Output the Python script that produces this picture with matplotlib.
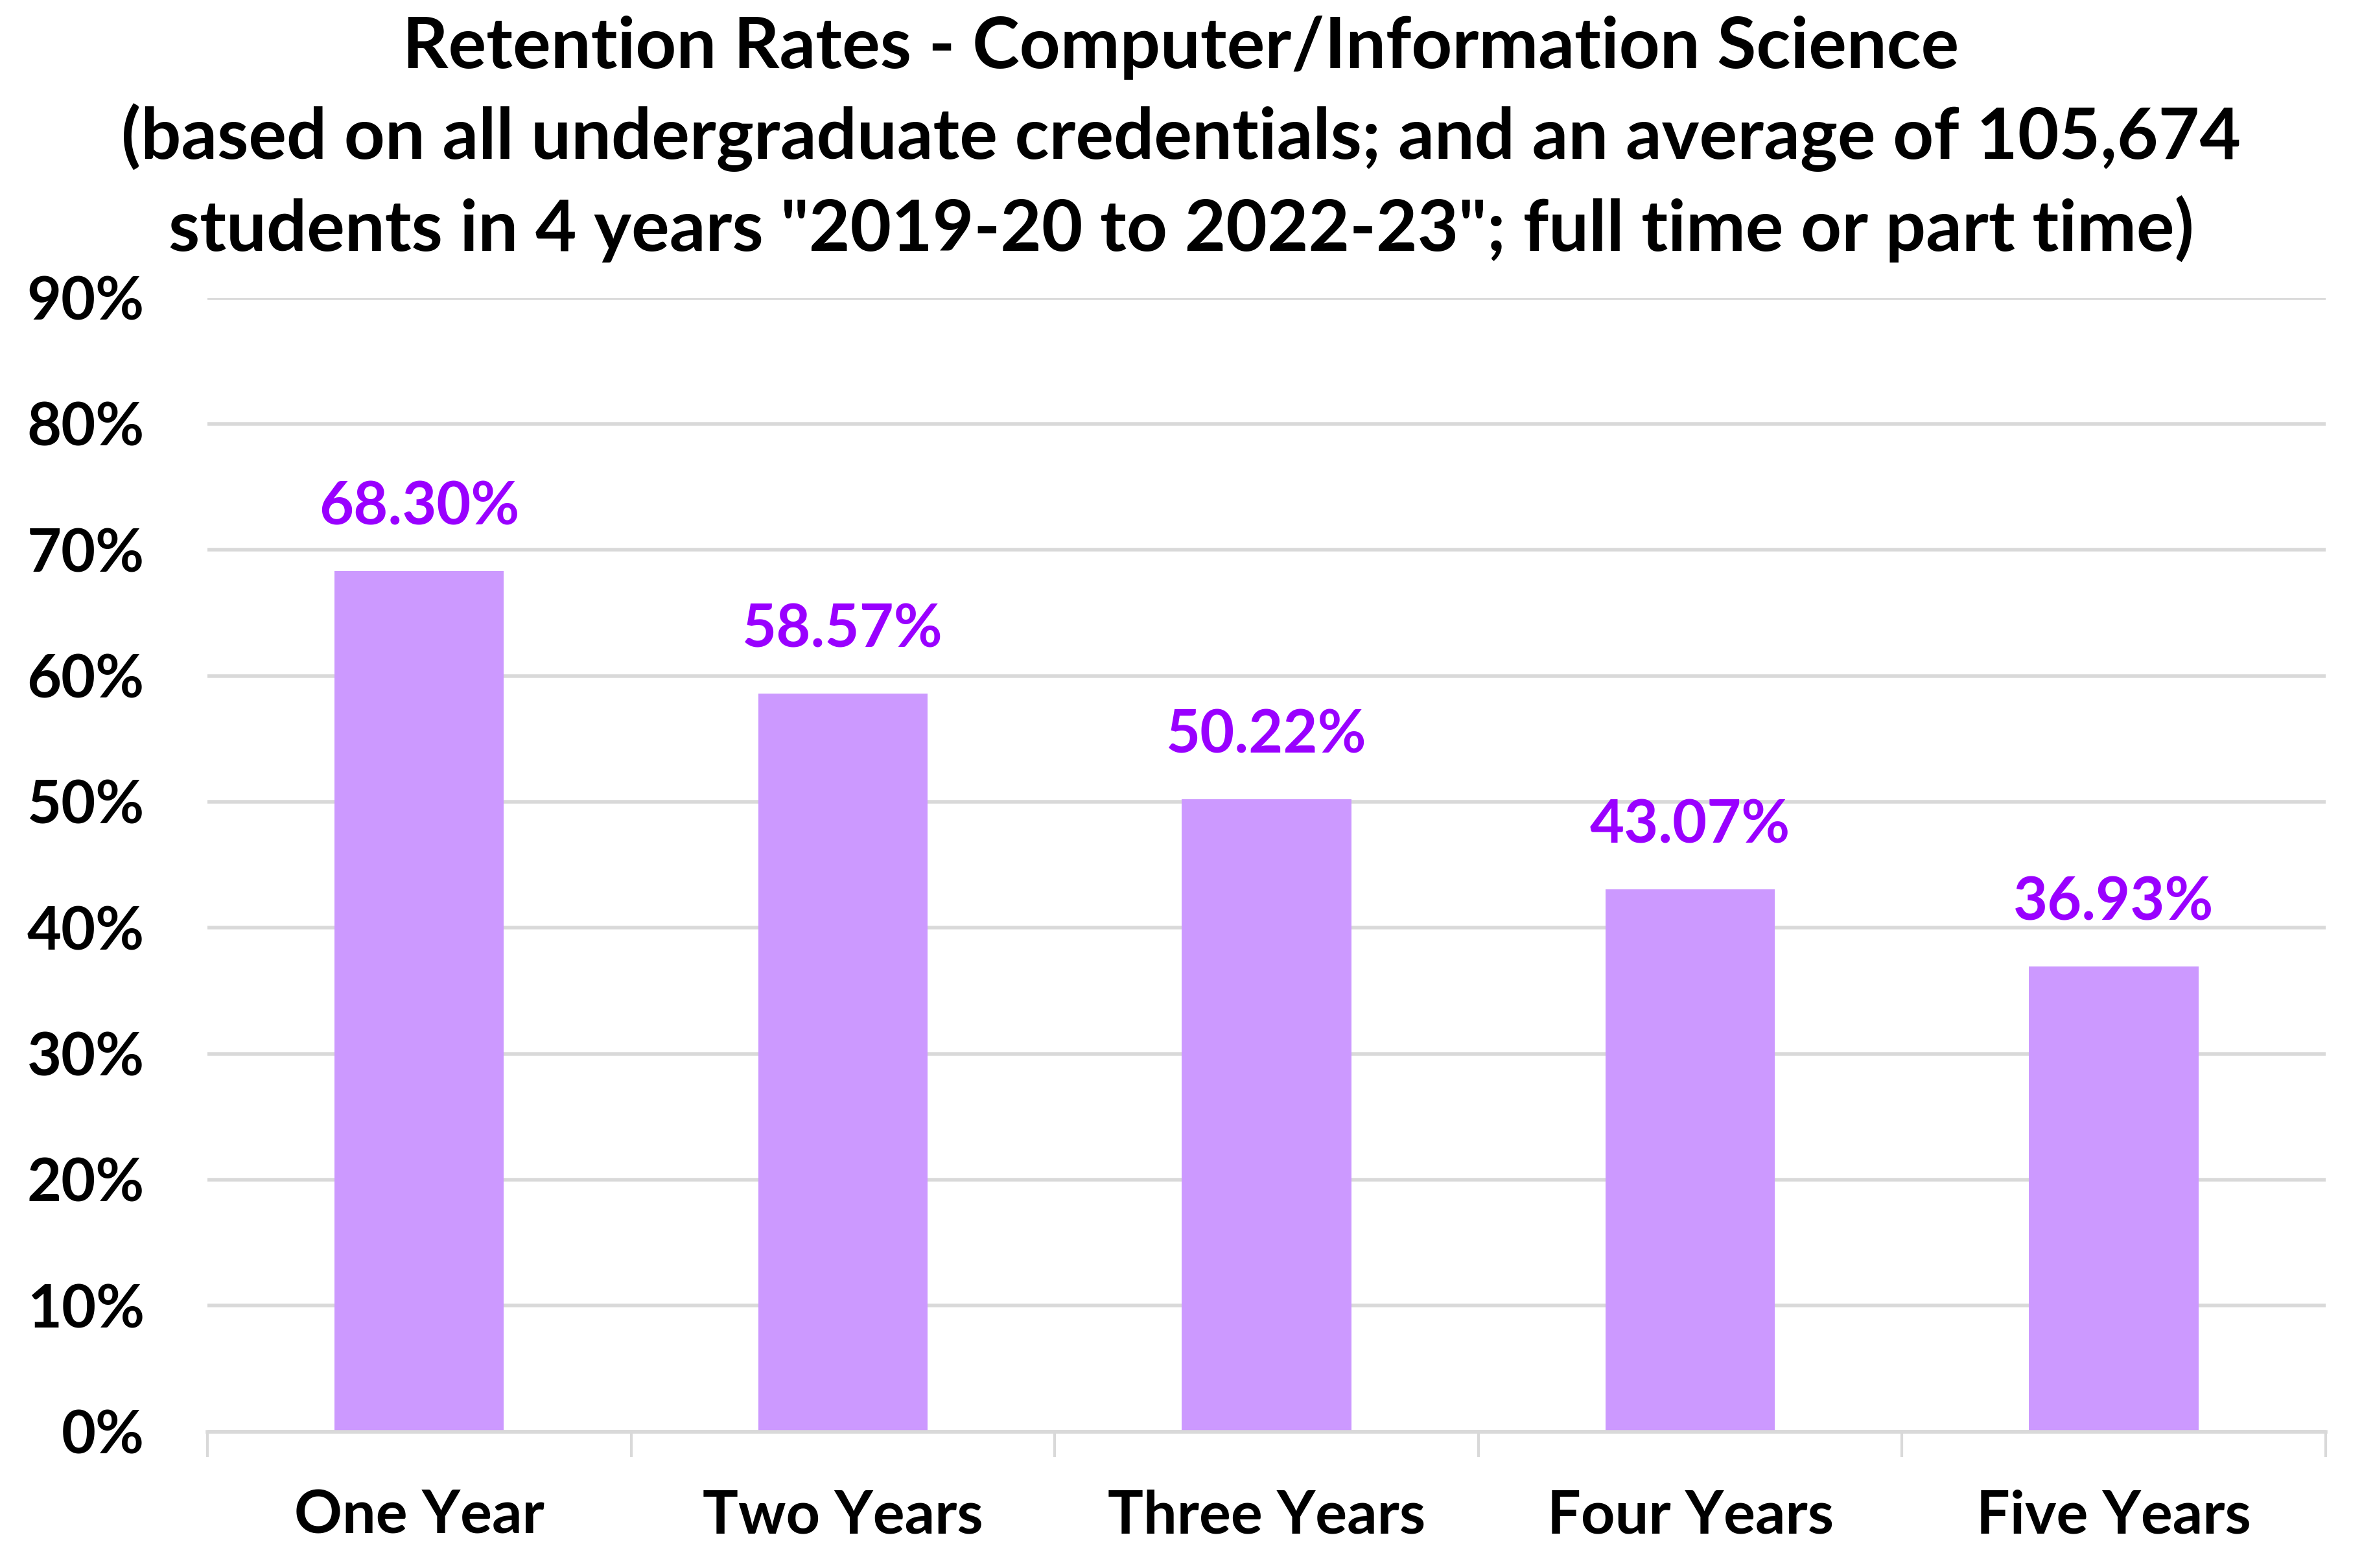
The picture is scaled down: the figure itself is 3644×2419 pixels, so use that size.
import matplotlib
matplotlib.use("Agg")
import matplotlib.pyplot as plt
from matplotlib.ticker import PercentFormatter

categories = ["One Year", "Two Years", "Three Years", "Four Years", "Five Years"]
rates = [68.30, 58.57, 50.22, 43.07, 36.93]
yticks = [0, 10, 20, 30, 40, 50, 60, 70, 80, 90]

title = ("Retention Rates - Computer/Information Science\n"
         "(based on all undergraduate credentials; and an average of 105,674\n"
         "students in 4 years \"2019-20 to 2022-23\"; full time or part time)")

plt.rcParams['font.family'] = ['Lato', 'DejaVu Sans']
plt.rcParams['font.weight'] = 'bold'

fig = plt.figure(figsize=(36.44, 24.19), dpi=100)
ax = fig.add_axes([0.0878, 0.0870, 0.8968, 0.7230])

x = list(range(len(categories)))
ax.bar(x, rates, width=0.4, color='#cc99ff', zorder=2)

for xi, v in zip(x, rates):
    ax.annotate(f"{v:.2f}%", (xi, v), xytext=(0, 40), textcoords='offset points',
                ha='center', va='bottom', color='#9900ff', fontsize=66, fontweight='bold')

ax.set_xlim(-0.5, len(categories) - 0.5)
ax.set_ylim(0, 90)
ax.set_yticks(yticks)
ax.yaxis.set_major_formatter(PercentFormatter(decimals=0))
ax.grid(axis='y', color='#d9d9d9', linewidth=4, zorder=0)

ax.set_xticks(x)
ax.set_xticklabels(categories)
ax.set_xticks([i - 0.5 for i in range(len(categories) + 1)], minor=True)
ax.tick_params(axis='x', which='major', length=0, pad=64, labelsize=66)
ax.tick_params(axis='x', which='minor', length=28, width=3, color='#d9d9d9')
ax.tick_params(axis='y', length=0, pad=70, labelsize=66)

for s in ['top', 'right', 'left']:
    ax.spines[s].set_visible(False)
ax.spines['bottom'].set_color('#d9d9d9')
ax.spines['bottom'].set_linewidth(4)

fig.text(0.5, 0.99, title, ha='center', va='top', fontsize=79, fontweight='bold',
         linespacing=1.42)

fig.savefig("out.png", dpi=100, facecolor='white')
